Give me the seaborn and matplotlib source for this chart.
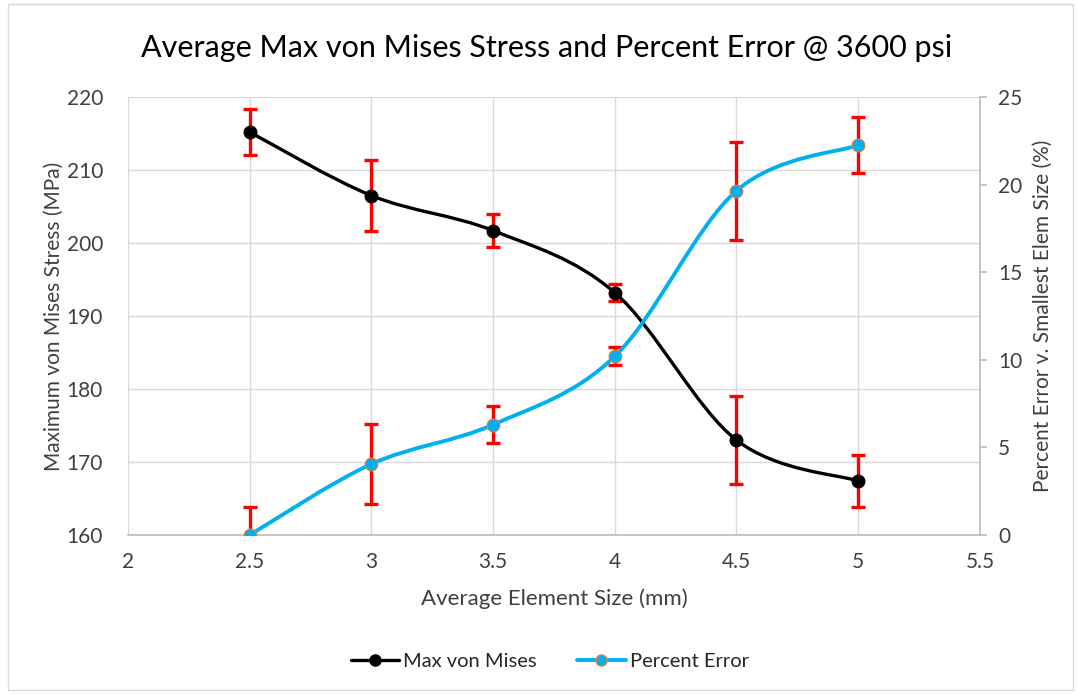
import numpy as np
import pandas as pd
import matplotlib
matplotlib.use('Agg')
import matplotlib.pyplot as plt
from matplotlib.path import Path
from matplotlib.patches import PathPatch, Rectangle
from matplotlib.lines import Line2D
import seaborn as sns

# %% data
sizes = [2.5, 3.0, 3.5, 4.0, 4.5, 5.0]
stress = [215.2, 206.5, 201.7, 193.2, 173.0, 167.4]
stress_err = [3.15, 4.85, 2.3, 1.2, 6.0, 3.5]
pct_error = [0.0, 4.05, 6.3, 10.2, 19.65, 22.25]
pct_err_bar = [1.6, 2.3, 1.05, 0.52, 2.8, 1.6]

df = pd.DataFrame({'size': sizes, 'stress': stress, 'stress_err': stress_err,
                   'pct': pct_error, 'pct_err': pct_err_bar})

BLACK = '#000000'
BLUE = '#00B0F0'
EDGE = '#ED7D31'
RED = '#FF0000'
GRID = '#D9D9D9'
TXT = '#404040'


def smooth_path(xs, ys):
    # excel-style smoothed line: cubic bezier through the points
    pts = np.column_stack([xs, ys]).astype(float)
    pad = np.vstack([pts[0], pts, pts[-1]])
    verts = [pts[0]]
    codes = [Path.MOVETO]
    for i in range(len(pts) - 1):
        p0, p1, p2, p3 = pad[i], pad[i + 1], pad[i + 2], pad[i + 3]
        verts += [p1 + (p2 - p0) / 6, p2 - (p3 - p1) / 6, p2]
        codes += [Path.CURVE4] * 3
    return Path(verts, codes)


# %% plot
sns.set_theme(style='white')
plt.rcParams['font.family'] = ['Lato', 'DejaVu Sans']

fig = plt.figure(figsize=(10.78, 6.94), dpi=100)
ax = fig.add_axes([0.1187, 0.2291, 0.7903, 0.6311])
ax2 = ax.twinx()

# left axis: max von mises
ax.errorbar(df['size'], df['stress'], yerr=df['stress_err'], fmt='none',
            ecolor=RED, elinewidth=2.4, capsize=5, capthick=2.4, zorder=2)
ax.add_patch(PathPatch(smooth_path(df['size'], df['stress']), fill=False,
                       edgecolor=BLACK, lw=2.4, zorder=3))
sns.scatterplot(data=df, x='size', y='stress', ax=ax, color=BLACK, s=85,
                edgecolor=BLACK, linewidth=0.8, zorder=4, legend=False)

# right axis: percent error
ax2.errorbar(df['size'], df['pct'], yerr=df['pct_err'], fmt='none',
             ecolor=RED, elinewidth=2.4, capsize=5, capthick=2.4, zorder=2)
ax2.add_patch(PathPatch(smooth_path(df['size'], df['pct']), fill=False,
                        edgecolor=BLUE, lw=2.8, zorder=3))
sns.scatterplot(data=df, x='size', y='pct', ax=ax2, color=BLUE, s=85,
                edgecolor=EDGE, linewidth=0.8, zorder=4, legend=False)

ax.set_xlim(2, 5.5)
ax.set_ylim(160, 220)
ax2.set_ylim(0, 25)
ax.set_xticks(np.arange(2, 5.51, 0.5))
ax.set_xticklabels(['2', '2.5', '3', '3.5', '4', '4.5', '5', '5.5'])
ax.set_yticks(np.arange(160, 221, 10))
ax2.set_yticks(np.arange(0, 26, 5))

ax.grid(True, color=GRID, lw=1.0)
ax.set_axisbelow(True)
ax2.grid(False)

for a in (ax, ax2):
    for s in a.spines.values():
        s.set_visible(False)
ax.spines['bottom'].set_visible(True)
ax.spines['bottom'].set_color('#BFBFBF')
ax2.spines['right'].set_visible(True)
ax2.spines['right'].set_color('#BFBFBF')

ax.tick_params(axis='y', length=0, labelsize=15, colors=TXT, pad=18)
ax.tick_params(axis='x', length=0, labelsize=15, colors=TXT, pad=12)
ax2.tick_params(axis='y', length=5, color='#BFBFBF', labelsize=15,
                labelcolor=TXT, pad=8)

ax.set_xlabel('Average Element Size (mm)', fontsize=16, color=TXT, labelpad=12)
ax.set_ylabel('Maximum von Mises Stress (MPa)', fontsize=15, color=TXT, labelpad=2)
ax2.set_ylabel('Percent Error v. Smallest Elem Size (%)', fontsize=15,
               color=TXT, labelpad=8)

fig.text(0.507, 0.931, 'Average Max von Mises Stress and Percent Error @ 3600 psi',
         ha='center', va='center', fontsize=22, color='#000000')

handles = [
    Line2D([0], [0], color=BLACK, lw=2.4, marker='o', markersize=8,
           markerfacecolor=BLACK, markeredgecolor=BLACK),
    Line2D([0], [0], color=BLUE, lw=2.8, marker='o', markersize=8,
           markerfacecolor=BLUE, markeredgecolor=EDGE),
]
fig.legend(handles, ['Max von Mises', 'Percent Error'], loc='center',
           bbox_to_anchor=(0.51, 0.047), ncol=2, frameon=False, fontsize=14.5,
           handlelength=2.4, columnspacing=2.0, handletextpad=0.2)

fig.patches.append(Rectangle((0.007, 0.006), 0.988, 0.988, transform=fig.transFigure,
                             fill=False, edgecolor=GRID, lw=1.0))

plt.savefig('out.png', dpi=100)
